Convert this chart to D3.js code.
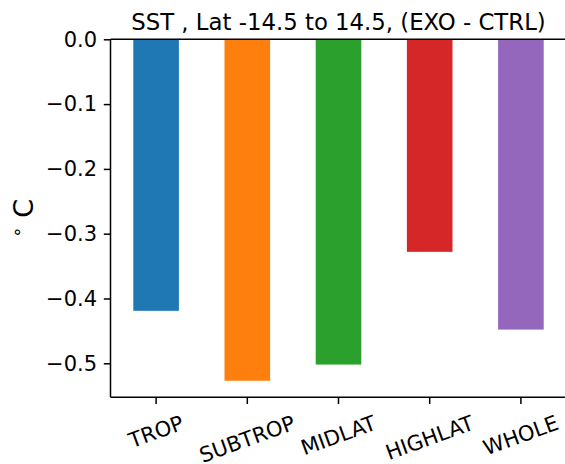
<!DOCTYPE html>
<html>
<head>
<meta charset="utf-8">
<script src="https://cdn.jsdelivr.net/npm/d3@7"></script>
<style>
  body { margin: 0; background: #fff; }
  text { font-family: "DejaVu Sans", sans-serif; fill: #000; }
</style>
</head>
<body>
<svg width="565" height="464"></svg>
<script>
// data
var regions = ["TROP", "SUBTROP", "MIDLAT", "HIGHLAT", "WHOLE"];
var sstDiff = [-0.419, -0.527, -0.502, -0.328, -0.448];
var barColors = ["#1f77b4", "#ff7f0e", "#2ca02c", "#d62728", "#9467bd"];
var yTicks = [0.0, -0.1, -0.2, -0.3, -0.4, -0.5];

var svg = d3.select("svg");

var pLeft = 110.5, pRight = 566.5, pTop = 39.3, pBottom = 397.3;
var tickLen = 6.7, tickPad = 6.7, lw = 1.5;

var x = d3.scaleBand()
  .domain(regions)
  .range([pLeft, pRight])
  .paddingInner(0.5)
  .paddingOuter(0.25);

var y = d3.scaleLinear()
  .domain([-0.5525, 0])
  .range([pBottom, pTop]);

// bars
svg.append("g")
  .selectAll("rect")
  .data(regions)
  .enter().append("rect")
  .attr("x", function(d) { return x(d); })
  .attr("width", x.bandwidth())
  .attr("y", y(0))
  .attr("height", function(d, i) { return y(sstDiff[i]) - y(0); })
  .attr("fill", function(d, i) { return barColors[i]; });

// y axis
var yAxis = d3.axisLeft(y)
  .tickValues(yTicks)
  .tickSize(tickLen)
  .tickPadding(tickPad)
  .tickFormat(function(d) { return d3.format(".1f")(d).replace("-", "\u2212"); });

var gy = svg.append("g")
  .attr("transform", "translate(" + pLeft + ",0)")
  .call(yAxis);
gy.select(".domain").remove();
gy.selectAll(".tick line").attr("stroke", "#000").attr("stroke-width", lw);
gy.selectAll(".tick text")
  .attr("font-family", "DejaVu Sans")
  .attr("font-size", 21)
  .attr("fill", "#000");

// x axis ticks
var gx = svg.append("g");
gx.selectAll("line")
  .data(regions)
  .enter().append("line")
  .attr("x1", function(d) { return x(d) + x.bandwidth() / 2; })
  .attr("x2", function(d) { return x(d) + x.bandwidth() / 2; })
  .attr("y1", pBottom)
  .attr("y2", pBottom + tickLen)
  .attr("stroke", "#000")
  .attr("stroke-width", lw);

// rotated labels, bbox top aligned below the ticks like matplotlib
var fs = 21;
var ang = 20 * Math.PI / 180;
gx.selectAll("text")
  .data(regions)
  .enter().append("text")
  .attr("font-size", fs)
  .attr("text-anchor", "middle")
  .attr("dominant-baseline", "central")
  .text(function(d) { return d; })
  .each(function(d) {
    var w = this.getComputedTextLength();
    var h = w * Math.sin(ang) + fs * 1.17 * Math.cos(ang);
    var cx = x(d) + x.bandwidth() / 2;
    var cy = pBottom + tickLen + tickPad + h / 2;
    d3.select(this)
      .attr("transform", "translate(" + cx + "," + cy + ") rotate(-20)");
  });

// spines
function spine(x1, y1, x2, y2) {
  svg.append("line")
    .attr("x1", x1).attr("y1", y1)
    .attr("x2", x2).attr("y2", y2)
    .attr("stroke", "#000").attr("stroke-width", lw);
}
spine(pLeft, pTop, pLeft, pBottom);
spine(pLeft, pBottom, pRight, pBottom);
spine(pLeft, pTop, pRight, pTop);
spine(pRight, pTop, pRight, pBottom);

// title
svg.append("text")
  .attr("x", (pLeft + pRight) / 2)
  .attr("y", 30)
  .attr("text-anchor", "middle")
  .attr("font-size", 22.8)
  .text("SST , Lat -14.5 to 14.5, (EXO - CTRL)");

// y label
var yl = svg.append("text")
  .attr("transform", "translate(32.7," + ((pTop + pBottom) / 2) + ") rotate(-90)")
  .attr("text-anchor", "middle")
  .attr("font-size", 27);
yl.append("tspan").attr("font-size", 18).attr("dy", -10).text("\u2218");
yl.append("tspan").attr("dy", 10).text(" C");
</script>
</body>
</html>
